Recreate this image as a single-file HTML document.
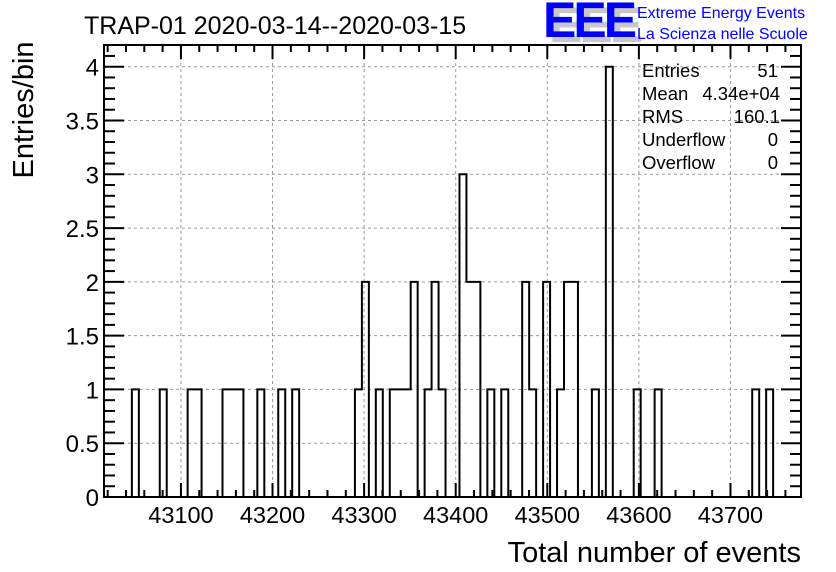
<!DOCTYPE html>
<html><head><meta charset="utf-8"><style>
body{margin:0;background:#fff;}
svg{display:block;font-family:"Liberation Sans",Arial,sans-serif;}
</style></head><body>
<svg id="chart" width="836" height="572" viewBox="0 0 836 572">
<g id="grid"></g>
<g id="hist"></g>
<g id="axes"></g>
<text x="84" y="34" font-size="25">TRAP-01 2020-03-14--2020-03-15</text>
<text transform="translate(33,110) rotate(-90)" text-anchor="middle" font-size="29">Entries/bin</text>
<text x="801" y="562" text-anchor="end" font-size="29">Total number of events</text>
<g>
<text x="549" y="42" font-size="50" font-weight="bold" fill="#c8c8c8" letter-spacing="-3">EEE</text>
<text x="543" y="37" font-size="50" font-weight="bold" fill="#0000ff" letter-spacing="-3">EEE</text>
<text x="637" y="18" font-size="16" fill="#0000ff">Extreme Energy Events</text>
<text x="637" y="39" font-size="16" fill="#0000ff">La Scienza nelle Scuole</text>
</g>
<g font-size="18.5">
<text x="642" y="77">Entries</text><text x="778" y="77" text-anchor="end">51</text>
<text x="642" y="100">Mean</text><text x="780" y="100" text-anchor="end">4.34e+04</text>
<text x="642" y="123">RMS</text><text x="780" y="123" text-anchor="end">160.1</text>
<text x="642" y="146">Underflow</text><text x="778" y="146" text-anchor="end">0</text>
<text x="642" y="169">Overflow</text><text x="778" y="169" text-anchor="end">0</text>
</g>
</svg>
<script>
const binIndex=[4,8,12,13,17,18,19,22,25,27,36,37,39,41,42,43,44,46,47,48,51,52,53,55,57,60,61,63,65,66,67,70,72,76,79,93,95];
const binCount=[1,1,1,1,1,1,1,1,1,1,1,2,1,1,1,1,2,1,2,1,3,2,2,1,1,2,1,2,1,2,2,1,4,1,1,1,1];
const xTicks=[43100,43200,43300,43400,43500,43600,43700];
const yTicks=[0,0.5,1,1.5,2,2.5,3,3.5,4];
const yTickLabels=["0","0.5","1","1.5","2","2.5","3","3.5","4"];
const NBINS=100, XMIN=43016, XMAX=43777;
const L=104,R=801,T=45,B=497;
const ns="http://www.w3.org/2000/svg";
const sx=v=>L+(v-XMIN)/(XMAX-XMIN)*(R-L);
const sy=v=>B-v/4*(B-66.7);
const bx=i=>L+i*(R-L)/NBINS;
function mk(tag,attrs,parent){const e=document.createElementNS(ns,tag);for(const k in attrs)e.setAttribute(k,attrs[k]);parent.appendChild(e);return e;}
const grid=document.getElementById('grid'),hist=document.getElementById('hist'),axes=document.getElementById('axes');
xTicks.forEach(v=>{const l=mk('line',{x1:sx(v),x2:sx(v),y1:T,y2:B,stroke:'#999','stroke-dasharray':'3,3','stroke-width':1},grid);

});
yTicks.forEach(v=>{if(v===0)return;const l=mk('line',{x1:L,x2:R,y1:sy(v),y2:sy(v),stroke:'#999','stroke-dasharray':'3,3','stroke-width':1},grid);

});
const counts=new Array(NBINS).fill(0);
binIndex.forEach((b,i)=>counts[b]=binCount[i]);
let d=`M${bx(0)},${sy(0)}`;
for(let i=0;i<NBINS;i++){d+=` L${bx(i)},${sy(counts[i])} L${bx(i+1)},${sy(counts[i])}`;}
const p=mk('path',{d:d,fill:'none',stroke:'#000','stroke-width':2},hist);


const fr=mk('rect',{x:L,y:T,width:R-L,height:B-T,fill:'none',stroke:'#000','stroke-width':2},axes);


for(let v=43020;v<=XMAX;v+=20){const maj=v%100===0;const len=maj?14:7;
mk('line',{x1:sx(v),x2:sx(v),y1:B,y2:B-len,stroke:'#000','stroke-width':2},axes);
mk('line',{x1:sx(v),x2:sx(v),y1:T,y2:T+len,stroke:'#000','stroke-width':2},axes);}
xTicks.forEach(v=>{const t=mk('text',{x:sx(v),y:523,'text-anchor':'middle','font-size':23.5},axes);t.textContent=v;

});
for(let k=0;k<=41;k++){const v=k*0.1;const maj=k%5===0;const len=maj?20:11;
mk('line',{x1:L,x2:L+len,y1:sy(v),y2:sy(v),stroke:'#000','stroke-width':2},axes);
mk('line',{x1:R,x2:R-len,y1:sy(v),y2:sy(v),stroke:'#000','stroke-width':2},axes);}
yTicks.forEach((v,i)=>{const t=mk('text',{x:99,y:sy(v)+9,'text-anchor':'end','font-size':24},axes);t.textContent=yTickLabels[i];

});
</script>
</body></html>
